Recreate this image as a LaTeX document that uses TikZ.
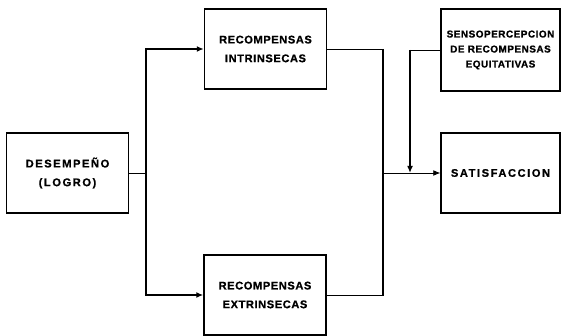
\documentclass[tikz,border=0pt]{standalone}
\usepackage{fontspec}
\usepackage{tikz}
\usetikzlibrary{arrows.meta, positioning, calc}
\newfontfamily\boxfont[LetterSpace=5, FakeBold=0.8]{Liberation Sans Bold}
\newfontfamily\widefont[LetterSpace=14, FakeBold=0.8]{Liberation Sans Bold}
\newfontfamily\sensofont[LetterSpace=5, FakeBold=1]{Liberation Sans Bold}

\begin{document}
\begin{tikzpicture}[
      box/.style={draw, rectangle, line width=1.2pt, minimum width=3.66cm, minimum height=2.4cm,
                  align=center, inner sep=0pt,
                  font=\boxfont\fontsize{9.5}{16}\selectfont},
      smallbox/.style={box, minimum width=3.57cm, minimum height=2.46cm,
                  font=\sensofont\fontsize{8.5}{12.8}\selectfont},
      widebox/.style={box, font=\widefont\fontsize{9.5}{16}\selectfont},
      ln/.style={line width=1.2pt},
      thin/.style={line width=0.7pt},
      arr/.style={-{Latex[length=6pt, width=5pt]}}
    ]
    \useasboundingbox (0,0) rectangle (16.86,10.08);

    \node[widebox] (desempeno) at (2.025, 4.89) {DESEMPEÑO\\(LOGRO)};
    \node[box]     (intrin)    at (7.965, 8.61) {RECOMPENSAS\\INTRINSECAS};
    \node[box]     (extrin)    at (7.95, 1.23)  {RECOMPENSAS\\EXTRINSECAS};
    \node[smallbox] (senso)    at (15.015, 8.58) {SENSOPERCEPCION\\DE RECOMPENSAS\\EQUITATIVAS};
    \node[widebox, minimum width=3.57cm] (satis) at (15.015, 4.89) {SATISFACCION};

    \coordinate (split)  at (4.38, 4.89);
    \coordinate (join)   at (11.49, 4.89);
    \coordinate (senseq) at (12.3, 4.89);

    \draw[thin] (desempeno.east) -- (split);
    \draw[ln, arr] (split) |- (intrin.west);
    \draw[ln, arr] (split) |- (extrin.west);

    \draw[thin] (intrin.east) -| (join);
    \draw[ln] (join |- intrin.east) -- (join);
    \draw[thin] (extrin.east) -| (join);
    \draw[ln] (join |- extrin.east) -- (join);
    \draw[thin, arr] (join) -- (satis.west);
    \draw[thin] (senso.west) -| ($(senseq)+(0,3.69)$);
    \draw[ln, arr] ($(senseq)+(0,3.69)$) -- (senseq);
  \end{tikzpicture}
\end{document}
